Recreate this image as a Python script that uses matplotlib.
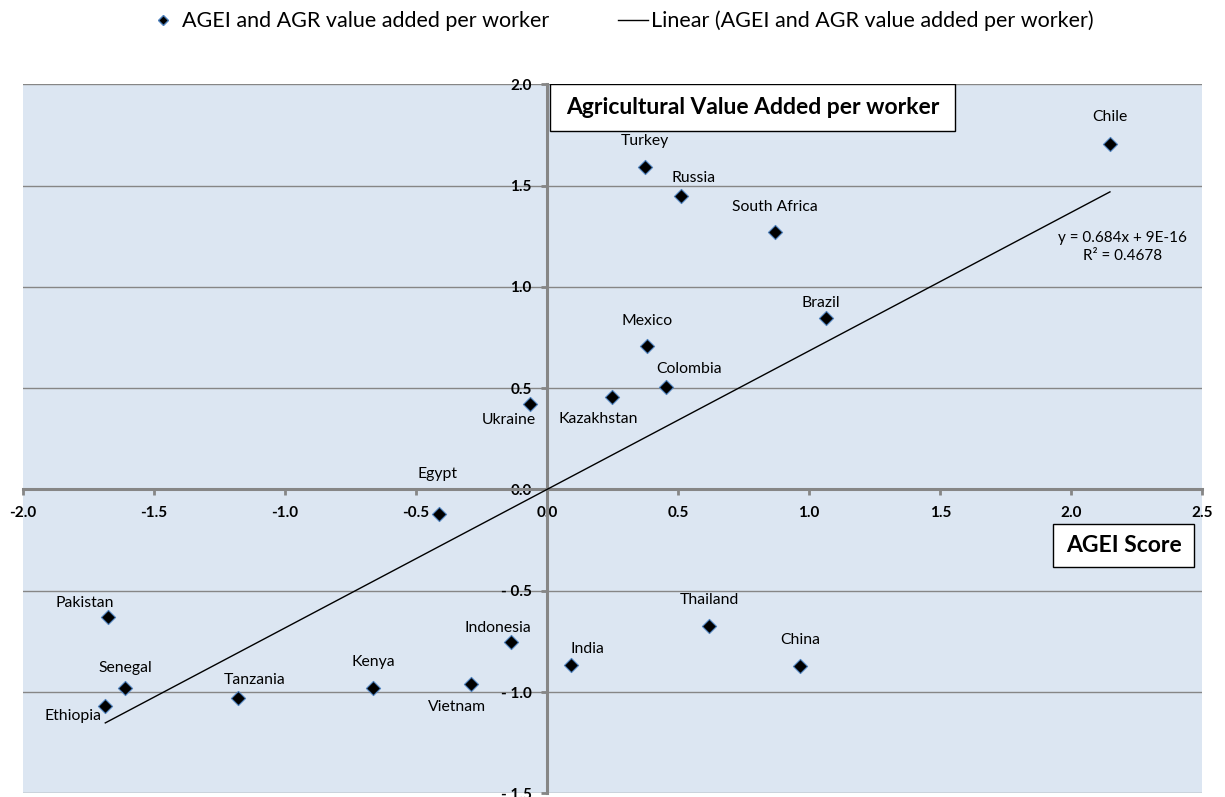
import matplotlib
matplotlib.use("Agg")
import matplotlib.pyplot as plt
from matplotlib.lines import Line2D
from matplotlib.patches import Rectangle
import numpy as np

plt.rcParams['font.family'] = ['Lato', 'DejaVu Sans']

# data
countries = ['Chile', 'Turkey', 'Russia', 'South Africa', 'Brazil', 'Mexico',
             'Colombia', 'Kazakhstan', 'Ukraine', 'Egypt', 'Pakistan',
             'Indonesia', 'India', 'Senegal', 'Kenya', 'Vietnam', 'Tanzania',
             'Ethiopia', 'Thailand', 'China']
agei = [2.147, 0.372, 0.512, 0.868, 1.065, 0.383,
        0.454, 0.248, -0.066, -0.412, -1.676,
        -0.139, 0.092, -1.610, -0.664, -0.291, -1.178,
        -1.685, 0.619, 0.965]
agr_va = [1.703, 1.589, 1.449, 1.272, 0.847, 0.708,
          0.505, 0.457, 0.423, -0.123, -0.628,
          -0.751, -0.866, -0.980, -0.982, -0.960, -1.030,
          -1.070, -0.672, -0.871]
slope = 0.684
intercept = 9e-16
r2 = 0.4678

# label offsets in pixels (dx, dy) relative to the marker
label_off = {
    'Chile': (0, 27), 'Turkey': (0, 26), 'Russia': (12, 18),
    'South Africa': (0, 25), 'Brazil': (-5, 15), 'Mexico': (0, 25),
    'Colombia': (23, 18), 'Kazakhstan': (-14, -22), 'Ukraine': (-21, -16),
    'Egypt': (-2, 40), 'Pakistan': (-23, 14), 'Indonesia': (-13, 14),
    'India': (16, 16), 'Senegal': (0, 20), 'Kenya': (0, 26),
    'Vietnam': (-14, -23), 'Tanzania': (16, 18), 'Ethiopia': (-32, -10),
    'Thailand': (0, 26), 'China': (0, 26),
}

W, H = 1225, 797
fig = plt.figure(figsize=(W / 100, H / 100), dpi=100)
ax = fig.add_axes([22.7 / W, (H - 793.3) / H, (1202.5 - 22.7) / W, (793.3 - 84.2) / H])
ax.set_facecolor('#DCE6F2')
ax.set_xlim(-2.0, 2.5)
ax.set_ylim(-1.5, 2.0)

grey = '#868686'
ax.yaxis.grid(True, color=grey, lw=1.0)
ax.set_axisbelow(True)
for s in ['top', 'right']:
    ax.spines[s].set_visible(False)
ax.spines['bottom'].set_position(('data', 0))
ax.spines['left'].set_position(('data', 0))
for s in ['bottom', 'left']:
    ax.spines[s].set_color(grey)
    ax.spines[s].set_linewidth(2.2)

xt = np.arange(-2.0, 2.51, 0.5)
yt = np.arange(-1.5, 2.01, 0.5)
ax.set_xticks(xt)
ax.set_xticklabels(['%.1f' % v for v in xt])
ax.set_yticks(yt)
ax.set_yticklabels([('- %.1f' % -v) if v < 0 else '%.1f' % v for v in yt])
ax.tick_params(axis='both', colors=grey, width=2, length=4, direction='out',
               labelcolor='black', labelsize=11)
ax.tick_params(axis='x', pad=8)
ax.tick_params(axis='y', pad=7)
for lab in ax.get_xticklabels() + ax.get_yticklabels():
    lab.set_fontweight('bold')

# trend line
xs = np.array([min(agei), max(agei)])
ax.plot(xs, slope * xs + intercept, color='black', lw=1.0, zorder=3)

ax.scatter(agei, agr_va, marker='D', s=52, color='black',
           edgecolors='#4F81BD', linewidths=0.8, zorder=4)

for name, x, y in zip(countries, agei, agr_va):
    dx, dy = label_off[name]
    ax.annotate(name, (x, y), xytext=(dx * 0.72, dy * 0.72),
                textcoords='offset points', ha='center', va='center',
                fontsize=11.3, color='black', zorder=5)

ax.text(2.196, 1.196, 'y = 0.684x + 9E-16\nR² = %.4f' % r2, ha='center',
        va='center', multialignment='center', fontsize=11, linespacing=1.3)

# axis title boxes
ax.add_patch(Rectangle((0.01, 1.769), 1.546, 0.231, facecolor='white',
                       edgecolor='black', lw=1.0, zorder=6))
ax.text(0.01 + 1.546 / 2, 1.769 + 0.231 / 2, 'Agricultural Value Added per worker',
        ha='center', va='center', fontsize=16.5, fontweight='bold', zorder=7)
ax.add_patch(Rectangle((1.93, -0.383), 0.538, 0.213, facecolor='white',
                       edgecolor='black', lw=1.0, zorder=6))
ax.text(1.93 + 0.538 / 2, -0.383 + 0.213 / 2, 'AGEI Score',
        ha='center', va='center', fontsize=16.5, fontweight='bold', zorder=7)

handles = [Line2D([], [], marker='D', ls='none', color='black',
                  markeredgecolor='#4F81BD', markersize=5),
           Line2D([], [], color='black', lw=1.0)]
fig.legend(handles, ['AGEI and AGR value added per worker',
                     'Linear (AGEI and AGR value added per worker)'],
           loc='center', bbox_to_anchor=(0.507, 1 - 21 / H), ncol=2,
           frameon=False, fontsize=15.5, handlelength=1.4, handletextpad=0.15,
           columnspacing=3.2)

fig.savefig('out.png', dpi=100, facecolor='white')
